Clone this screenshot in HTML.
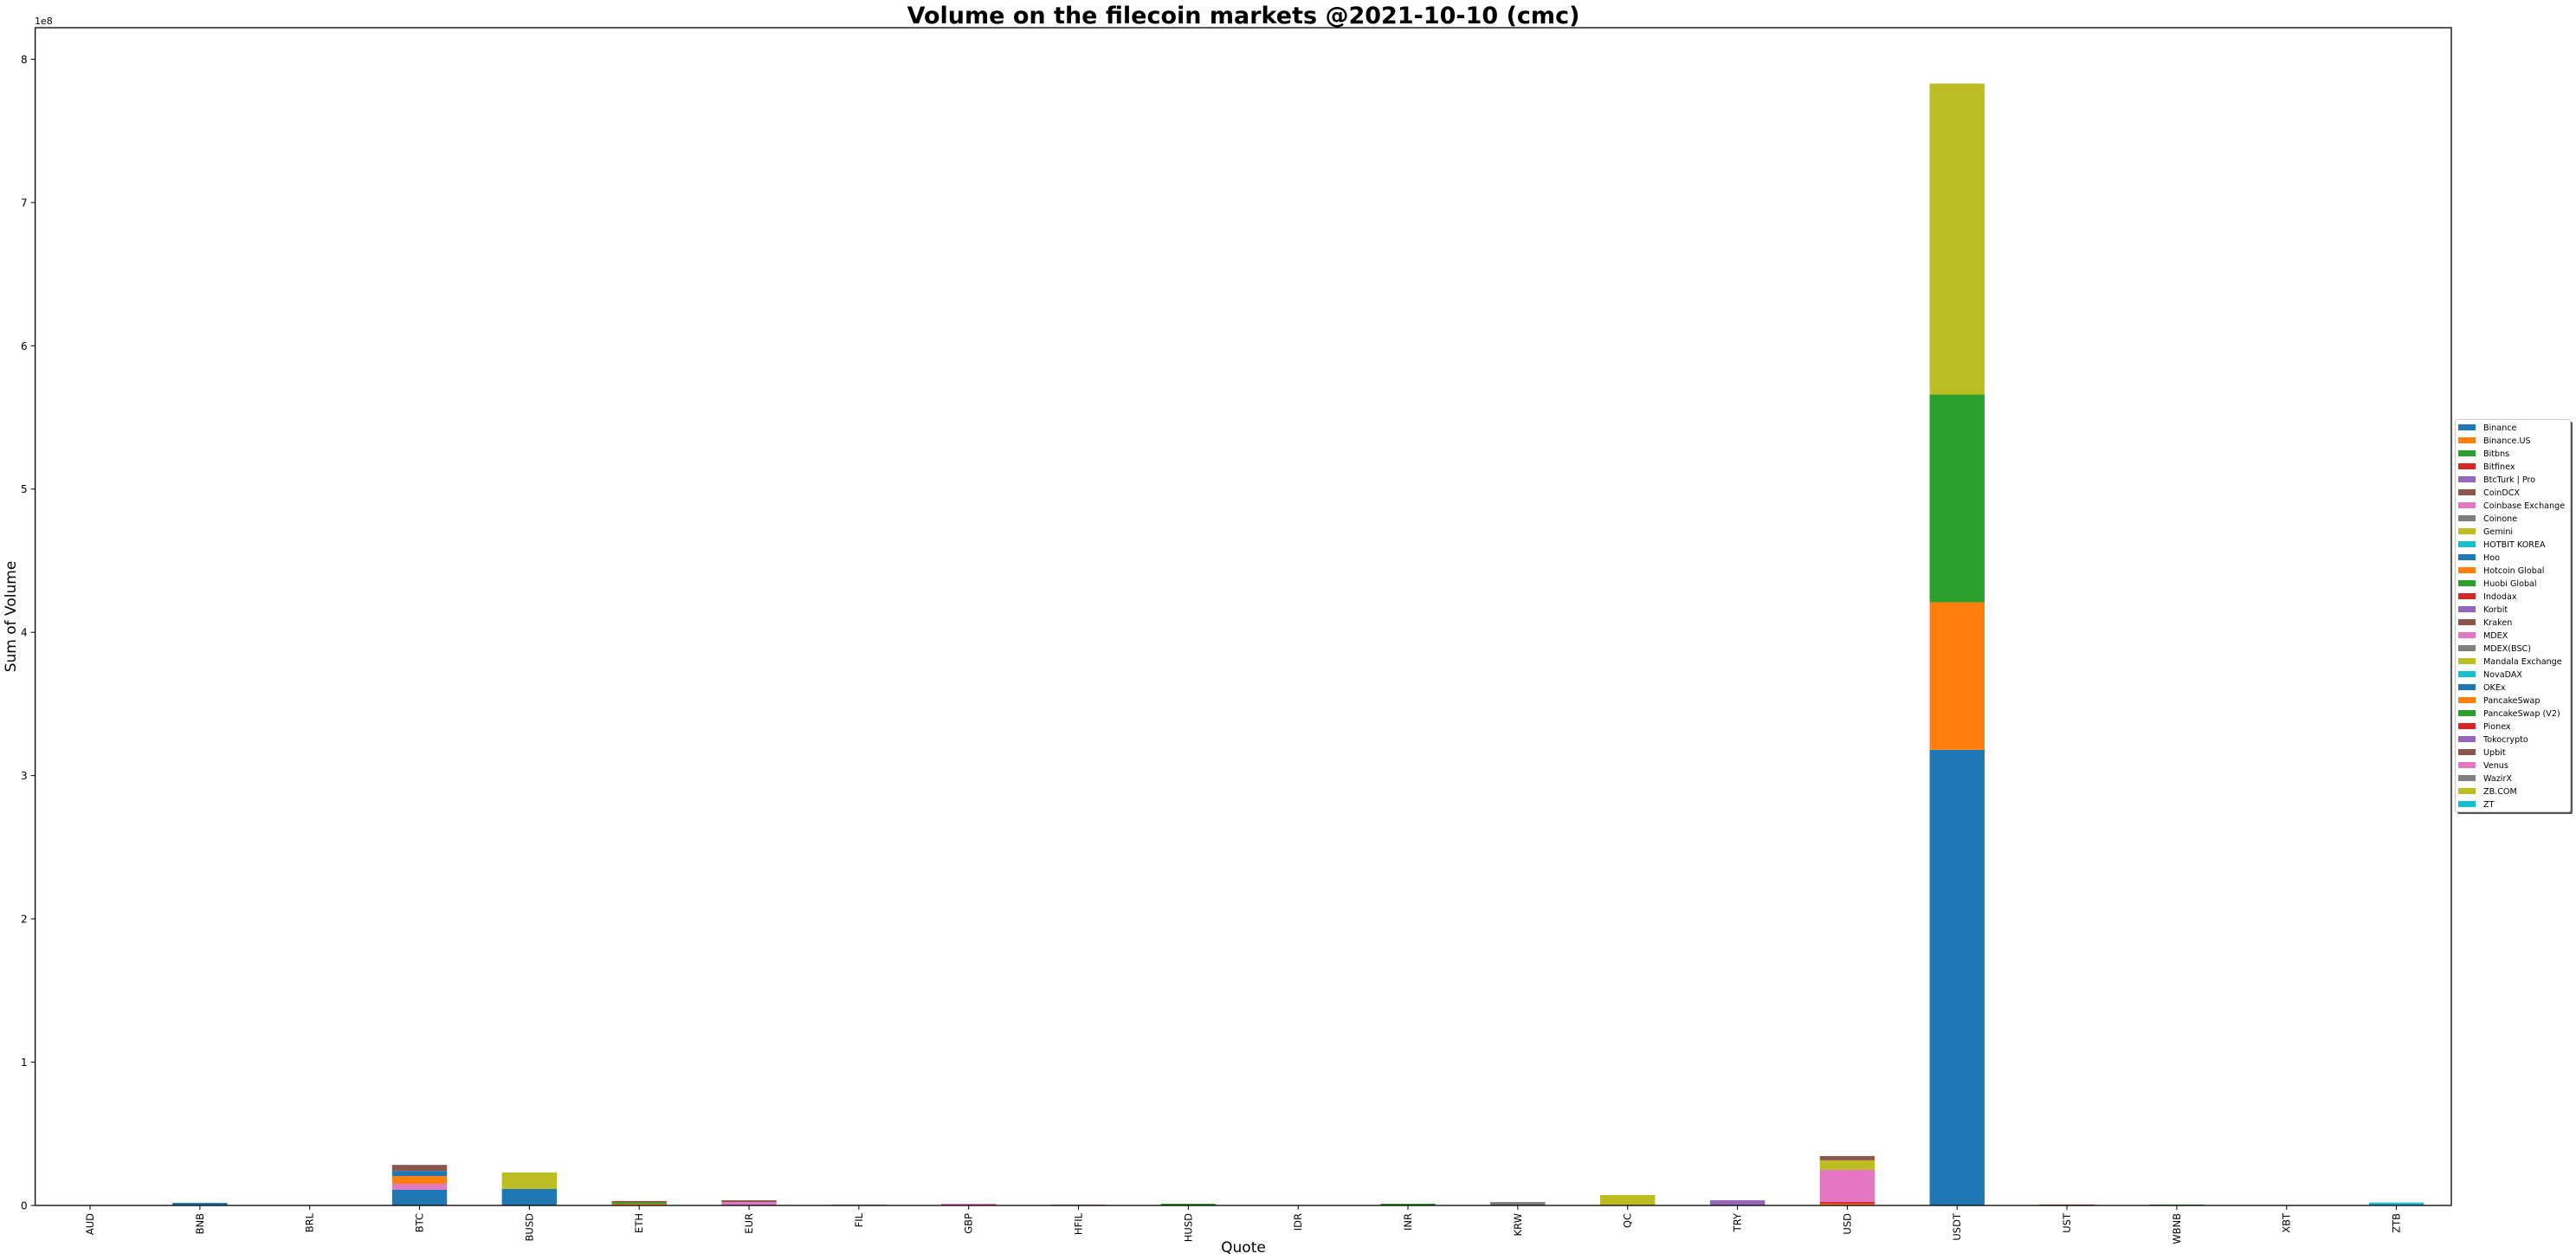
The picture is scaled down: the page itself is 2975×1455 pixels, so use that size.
<!DOCTYPE html>
<html><head><meta charset="utf-8">
<style>
html,body{margin:0;padding:0;background:#fff;}
svg{display:block;font-family:"DejaVu Sans","Liberation Sans",sans-serif;}
</style></head>
<body>
<svg id="chart" width="2975" height="1455" viewBox="0 0 2975 1455" xmlns="http://www.w3.org/2000/svg">
<rect x="0" y="0" width="2975" height="1455" fill="#fff"/>
<text x="1436" y="27" text-anchor="middle" font-size="27" font-weight="bold" fill="#000">Volume on the filecoin markets @2021-10-10 (cmc)</text>
<text x="1436" y="1446" text-anchor="middle" font-size="17" fill="#000">Quote</text>
<text transform="translate(18,712) rotate(-90)" text-anchor="middle" font-size="17" fill="#000">Sum of Volume</text>
<text x="40" y="28" font-size="11" fill="#000">1e8</text>
<g id="bars"></g>
<g id="axes"></g>
<g id="legend"></g>
</svg>
<script>
const categories = ["AUD","BNB","BRL","BTC","BUSD","ETH","EUR","FIL","GBP","HFIL","HUSD","IDR","INR","KRW","QC","TRY","USD","USDT","UST","WBNB","XBT","ZTB"];
const exchanges = ["Binance","Binance.US","Bitbns","Bitfinex","BtcTurk | Pro","CoinDCX","Coinbase Exchange","Coinone","Gemini","HOTBIT KOREA","Hoo","Hotcoin Global","Huobi Global","Indodax","Korbit","Kraken","MDEX","MDEX(BSC)","Mandala Exchange","NovaDAX","OKEx","PancakeSwap","PancakeSwap (V2)","Pionex","Tokocrypto","Upbit","Venus","WazirX","ZB.COM","ZT"];
// volumes in millions, one array per exchange across categories
const volBinance      = [0,1.8,0,10.9,11.5,0,0,0,0,0,0,0,0,0,0,0,0,318,0,0,0,0];
const volBinanceUS    = [0,0,0,0,0,0,0,0,0,0,0,0,0,0,0,0,1.2,0,0,0,0,0];
const volBitbns       = [0,0,0,0,0,0,0,0,0,0,0,0,1.2,0,0,0,0,0,0,0,0,0];
const volBitfinex     = [0,0,0,0,0,0,0,0,0,0,0,0,0,0,0,0,1.2,0,0.6,0,0,0];
const volBtcTurk      = [0,0,0,0,0,0,0,0,0,0,0,0,0,0,0,3.6,0,0,0,0,0,0];
const volCoinbase     = [0,0,0,4.2,0,0,2.4,0,1.2,0,0,0,0,0,0,0,22.4,0,0,0,0,0];
const volCoinone      = [0,0,0,0,0,0,0,0,0,0,0,0,0,2.4,0,0,0,0,0,0,0,0];
const volGemini       = [0,0,0,0,0,0,0,0,0,0,0,0,0,0,0,0,6.7,0,0,0,0,0];
const volHotcoin      = [0,0,0,5.4,0,1.2,0,0,0,0,0,0,0,0,0,0,0,103,0,0,0,0];
const volHuobi        = [0,0,0,0,0,1.2,0,0,0,0,1.2,0,0,0,0,0,0,145,0,0,0,0];
const volKraken       = [0,0,0,0,0,0,1.2,0,0,0,0,0,0,0,0,0,3.0,0,0,0,0,0];
const volMDEX         = [0,0,0,0,0,0,0,0.6,0,0.6,0,0,0,0,0,0,0,0,0,0,0,0];
const volOKEx         = [0,0,0,3.6,0,0,0,0,0,0,0,0,0,0,0,0,0,0,0,0,0,0];
const volPancakeV2    = [0,0,0,0,0,0,0,0,0,0,0,0,0,0,0,0,0,0,0,0.6,0,0];
const volPionex       = [0,0,0,0,0,0.6,0,0,0,0,0,0,0,0,0,0,0,0,0,0,0,0];
const volUpbit        = [0,0,0,4.2,0,0,0,0,0,0,0,0,0,0,0,0,0,0,0,0,0,0];
const volZBCOM        = [0,0,0,0,11.5,0,0,0,0,0,0,0,0,0,7.3,0,0,217,0,0,0,0];
const volZT           = [0,0,0,0,0,0,0,0,0,0,0,0,0,0,0,0,0,0,0,0,0,2.0];
const yTicks = [0,1,2,3,4,5,6,7,8];

const seriesMap = {"Binance":volBinance,"Binance.US":volBinanceUS,"Bitbns":volBitbns,"Bitfinex":volBitfinex,"BtcTurk | Pro":volBtcTurk,"Coinbase Exchange":volCoinbase,"Coinone":volCoinone,"Gemini":volGemini,"Hotcoin Global":volHotcoin,"Huobi Global":volHuobi,"Kraken":volKraken,"MDEX":volMDEX,"OKEx":volOKEx,"PancakeSwap (V2)":volPancakeV2,"Pionex":volPionex,"Upbit":volUpbit,"ZB.COM":volZBCOM,"ZT":volZT};
const palette = ["#1f77b4","#ff7f0e","#2ca02c","#d62728","#9467bd","#8c564b","#e377c2","#7f7f7f","#bcbd22","#17becf"];
const NS = "http://www.w3.org/2000/svg";
const L = 40.6, R = 2831, T = 32, B = 1392;
const yMax = 822; // millions
const slot = (R - L) / categories.length;
function xScale(i){ return L + slot * (i + 0.5); }
function yScale(v){ return B - (v / yMax) * (B - T); }
function mk(tag, attrs, parent){ const e = document.createElementNS(NS, tag); for (const k in attrs) e.setAttribute(k, attrs[k]); parent.appendChild(e); return e; }

const bars = document.getElementById('bars');
const base = categories.map(() => 0);
exchanges.forEach((ex, si) => {
  const vals = seriesMap[ex];
  if (!vals) return;
  vals.forEach((v, ci) => {
    if (v <= 0) return;
    const y0 = yScale(base[ci]), y1 = yScale(base[ci] + v);
    const r = mk('rect', {x: xScale(ci) - slot / 4, y: y1, width: slot / 2, height: Math.max(y0 - y1, 0.8), fill: palette[si % 10]}, bars);
    
    
    base[ci] += v;
  });
});

const axes = document.getElementById('axes');
const frame = mk('rect', {x: L, y: T, width: R - L, height: B - T, fill: 'none', stroke: '#000', 'stroke-width': 1.3}, axes);


yTicks.forEach(t => {
  const y = yScale(t * 100);
  const tk = mk('line', {x1: L - 5, x2: L, y1: y, y2: y, stroke: '#000', 'stroke-width': 1}, axes);
  
  
  const tx = mk('text', {x: L - 9, y: y + 4.5, 'text-anchor': 'end', 'font-size': 12, fill: '#000'}, axes);
  tx.textContent = String(t);
  
  
});
categories.forEach((c, i) => {
  const x = xScale(i);
  const tk = mk('line', {x1: x, x2: x, y1: B, y2: B + 5, stroke: '#000', 'stroke-width': 1}, axes);
  
  
  const tx = mk('text', {transform: 'translate(' + (x + 4) + ',' + (B + 9) + ') rotate(-90)', 'text-anchor': 'end', 'font-size': 11.5, fill: '#000'}, axes);
  tx.textContent = c;
  
  
});

const legend = document.getElementById('legend');

const sh = mk('rect', {x: 2838, y: 487, width: 133, height: 453, fill: '#555', rx: 2}, legend);


const box = mk('rect', {x: 2835.5, y: 484.5, width: 133, height: 453, fill: '#fff', stroke: '#ccc', 'stroke-width': 1, rx: 2}, legend);


exchanges.forEach((ex, i) => {
  const y = 493 + i * 15;
  const g = mk('g', {}, legend);
  
  
  mk('rect', {x: 2839, y: y - 3, width: 20, height: 7, fill: palette[i % 10]}, g);
  const t = mk('text', {x: 2868, y: y + 4, 'font-size': 9.6, fill: '#000'}, g);
  t.textContent = ex;
});
</script>
</body></html>
